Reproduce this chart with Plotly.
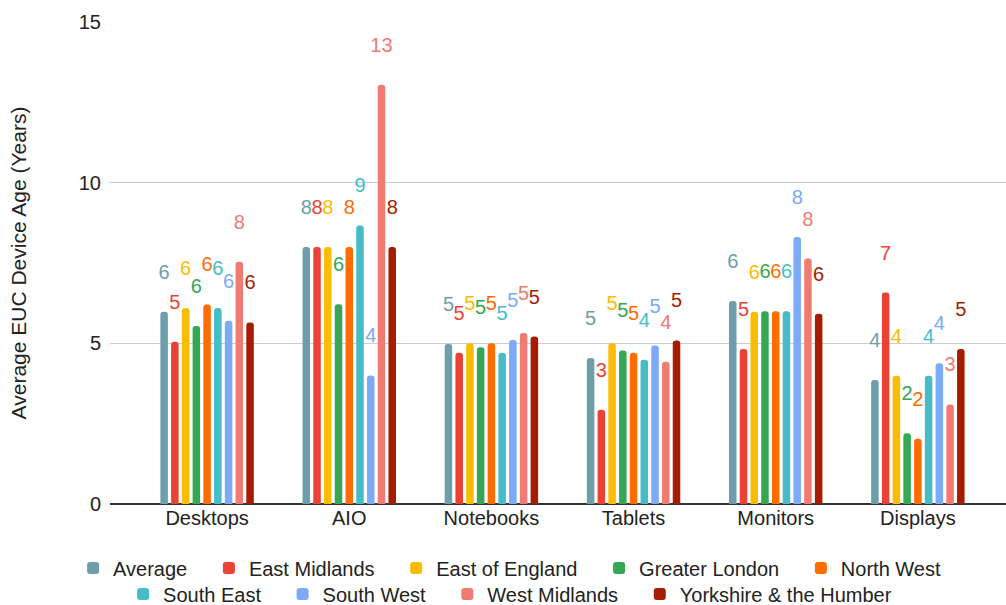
import plotly.graph_objects as go

# Device categories on the x axis
categories = ["Desktops", "AIO", "Notebooks", "Tablets", "Monitors", "Displays"]

# Average EUC device age (years) per region, one list per series
average = [5.98, 8.0, 4.98, 4.54, 6.32, 3.86]
east_midlands = [5.05, 8.0, 4.71, 2.93, 4.82, 6.58]
east_of_england = [6.1, 8.0, 5.0, 5.0, 5.98, 3.99]
greater_london = [5.54, 6.22, 4.88, 4.78, 6.0, 2.2]
north_west = [6.21, 8.0, 5.0, 4.71, 6.0, 2.03]
south_east = [6.1, 8.67, 4.71, 4.49, 6.0, 3.99]
south_west = [5.7, 4.0, 5.1, 4.93, 8.31, 4.38]
west_midlands = [7.54, 13.05, 5.32, 4.43, 7.64, 3.1]
yorkshire = [5.65, 8.0, 5.21, 5.09, 5.92, 4.82]

series = [
    ("Average", average, "#6d9eab", "legend"),
    ("East Midlands", east_midlands, "#ea4335", "legend"),
    ("East of England", east_of_england, "#fbbc04", "legend"),
    ("Greater London", greater_london, "#34a853", "legend"),
    ("North West", north_west, "#ff6d01", "legend"),
    ("South East", south_east, "#46bdc6", "legend2"),
    ("South West", south_west, "#7baaf7", "legend2"),
    ("West Midlands", west_midlands, "#f07b72", "legend2"),
    ("Yorkshire & the Humber", yorkshire, "#a61c00", "legend2"),
]

FONT = "Liberation Sans, Arial, sans-serif"
PAD = "\u00a0\u00a0\u00a0"

fig = go.Figure()
for name, values, color, legend_id in series:
    fig.add_trace(go.Bar(
        x=categories,
        y=values,
        name=name + PAD,
        legend=legend_id,
        marker=dict(color=color, cornerradius=4, line=dict(width=0)),
        texttemplate="%{y:.0f}<br>\u00a0",
        textposition="outside",
        textangle=0,
        constraintext="none",
        cliponaxis=False,
        textfont=dict(family=FONT, size=20, color=color),
    ))

legend_common = dict(
    orientation="h",
    xref="container",
    yref="container",
    xanchor="center",
    yanchor="middle",
    font=dict(family=FONT, size=20, color="#222222"),
    bgcolor="rgba(0,0,0,0)",
    traceorder="normal",
)

fig.update_layout(
    width=1006,
    height=605,
    margin=dict(l=110, r=0, t=22, b=101),
    paper_bgcolor="white",
    plot_bgcolor="white",
    barmode="group",
    bargap=0.32,
    bargroupgap=0.30,
    font=dict(family=FONT, size=20, color="#222222"),
    showlegend=True,
    legend=dict(x=0.515, y=1 - 568 / 605, **legend_common),
    legend2=dict(x=0.515, y=1 - 594 / 605, **legend_common),
    xaxis=dict(
        type="category",
        range=[-0.683, 5.62],
        showgrid=False,
        showline=False,
        ticks="",
        tickfont=dict(family=FONT, size=20, color="#222222"),
    ),
    yaxis=dict(
        range=[0, 15],
        dtick=5,
        showgrid=True,
        gridcolor="#cccccc",
        gridwidth=1,
        zeroline=True,
        zerolinecolor="#333333",
        zerolinewidth=1.5,
        ticks="",
        ticklabelstandoff=8,
        tickfont=dict(family=FONT, size=20, color="#222222"),
        title=dict(
            text="Average EUC Device Age (Years)",
            font=dict(family=FONT, size=21, color="#222222"),
            standoff=46,
        ),
    ),
)

fig.write_html("out.html")
